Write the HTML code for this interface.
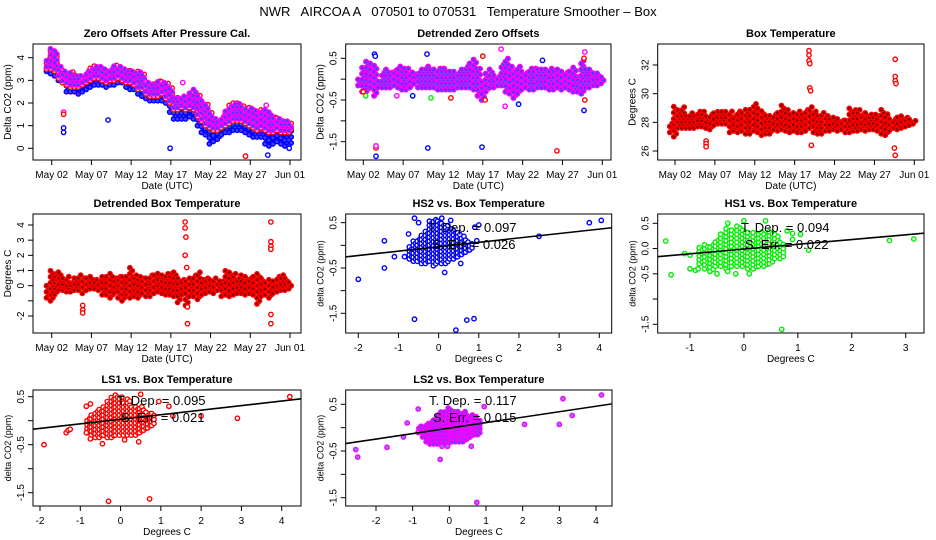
<!DOCTYPE html>
<html><head><meta charset="utf-8"><style>
html,body{margin:0;padding:0;background:#fff;}
svg{display:block;font-family:"Liberation Sans",sans-serif;}
</style></head><body>
<svg id="chart" width="936" height="540" viewBox="0 0 936 540" xmlns="http://www.w3.org/2000/svg">
<rect x="0" y="0" width="936" height="540" fill="#fff"/>
<text x="458" y="16" font-size="13" text-anchor="middle" xml:space="preserve">NWR   AIRCOA A   070501 to 070531   Temperature Smoother – Box</text>
</svg>
<script>
// ---------- DATA ----------
const tDays = [0.5,1,1.5,2,2.5,3,3.5,4,4.5,5,5.5,6,6.5,7,7.5,8,8.5,9,9.5,10,10.5,11,11.5,12,12.5,13,13.5,14,14.5,15,15.5,16,16.5,17,17.5,18,18.5,19,19.5,20,20.5,21,21.5,22,22.5,23,23.5,24,24.5,25,25.5,26,26.5,27,27.5,28,28.5,29,29.5,30,30.5,31];
const dateTicks = [1,6,11,16,21,26,31];
const dateTickLabels = ["May 02","May 07","May 12","May 17","May 22","May 27","Jun 01"];

// Panel 1: zero offsets
const zeroMagHi = [3.9,4.4,4.3,3.7,3.5,3.3,3.4,3.3,3.2,3.1,3.4,3.6,3.7,3.6,3.6,3.5,3.5,3.7,3.6,3.5,3.5,3.5,3.4,3.4,3.3,3.0,2.9,2.9,3.0,3.0,2.9,2.7,2.3,2.3,2.3,2.2,2.5,2.6,2.4,2.1,2.0,1.6,1.3,1.2,1.4,1.7,1.9,2.0,2.0,1.9,1.8,1.8,1.7,1.6,1.7,1.7,1.6,1.4,1.4,1.3,1.2,1.1];
const zeroMagLo = [3.6,3.6,3.5,3.2,3.0,2.9,2.8,2.8,2.8,2.9,3.0,3.1,3.2,3.2,3.1,3.0,3.1,3.1,3.2,3.1,3.0,3.0,2.9,2.7,2.7,2.5,2.4,2.4,2.4,2.5,2.3,2.1,1.8,1.8,1.9,1.8,1.9,1.8,1.5,1.3,1.1,1.0,0.9,0.9,1.0,1.1,1.2,1.3,1.3,1.3,1.2,1.1,1.0,0.9,1.0,0.9,0.8,0.8,0.9,0.8,0.8,0.8];
const zeroRedLo = [3.5,3.5,3.4,3.1,2.9,2.8,2.7,2.7,2.7,2.8,2.9,3.0,3.1,3.1,3.0,2.9,3.0,3.0,3.1,3.0,2.9,2.9,2.8,2.6,2.6,2.4,2.3,2.3,2.3,2.4,2.2,2.0,1.7,1.7,1.8,1.7,1.8,1.7,1.4,1.2,1.0,0.9,0.8,0.8,0.9,1.0,1.1,1.2,1.2,1.2,1.1,1.0,0.9,0.8,0.9,0.8,0.7,0.7,0.8,0.7,0.7,0.7];
const zeroBlueLo = [3.4,3.3,3.2,3.0,2.9,2.5,2.5,2.5,2.4,2.5,2.6,2.7,2.8,2.8,2.8,2.7,2.8,2.8,2.9,2.9,2.7,2.6,2.6,2.4,2.3,2.2,2.1,2.1,2.1,2.1,2.0,1.6,1.3,1.3,1.3,1.3,1.4,1.3,1.0,0.7,0.6,0.2,0.3,0.4,0.6,0.7,0.7,0.8,0.8,0.8,0.7,0.6,0.5,0.5,0.5,0.2,0.1,0.2,0.3,0.2,0.1,0.1];
const zeroOutT = [2.5,2.5,2.5,2.5,8.1,15.9,17.5,25.4,28.2,30.9,28.0];
const zeroOutV = [1.6,1.5,0.9,0.7,1.25,0.0,2.9,-0.35,-0.3,0.0,1.9];
const zeroOutC = ["m","r","b","b","b","b","m","r","b","b","m"];

// Panel 2: detrended zero offsets
const detLo = [-0.15,-0.3,-0.3,-0.2,-0.4,-0.2,-0.2,-0.2,-0.2,-0.15,-0.2,-0.25,-0.25,-0.2,-0.1,-0.2,-0.2,-0.2,-0.2,-0.2,-0.25,-0.25,-0.25,-0.25,-0.25,-0.2,-0.2,-0.2,-0.2,-0.25,-0.4,-0.5,-0.3,-0.2,-0.2,-0.15,-0.15,-0.3,-0.35,-0.45,-0.35,-0.25,-0.2,-0.25,-0.25,-0.2,-0.2,-0.2,-0.25,-0.25,-0.2,-0.25,-0.2,-0.25,-0.3,-0.3,-0.35,-0.2,-0.2,-0.15,-0.15,-0.1];
const detHi = [0.05,0.3,0.45,0.4,0.35,0.0,0.2,0.25,0.2,0.25,0.35,0.3,0.3,0.2,0.15,0.2,0.3,0.35,0.3,0.3,0.3,0.3,0.25,0.2,0.25,0.2,0.3,0.35,0.4,0.5,0.3,0.0,0.2,0.3,0.1,0.1,0.4,0.5,0.3,0.25,0.35,0.25,0.2,0.3,0.3,0.3,0.3,0.25,0.3,0.25,0.3,0.25,0.2,0.25,0.3,0.1,0.5,0.25,0.25,0.2,0.15,0.1];
const detOutT = [2.6,2.6,2.6,9.1,15.9,25.3,9.0,2.4,2.5,18.3,18.8,20.5,28.7,28.8,1.3,1.0,12,9.5,23.5,5.2,7.2,16.3,28.7,28.8,16];
const detOutV = [-1.85,-1.65,-1.6,-1.65,-1.63,-1.72,0.6,0.6,0.55,0.72,-0.65,-0.6,-0.75,-0.5,-0.4,-0.3,-0.45,-0.45,0.45,-0.4,-0.4,-0.5,0.5,0.65,0.55];
const detOutC = ["b","r","m","b","b","r","b","b","b","m","m","b","b","r","g","r","r","g","b","m","b","r","r","m","r"];

// Panel 3: box temperature
const boxLo = [27.3,27.0,27.6,27.6,27.6,27.6,27.6,27.7,27.7,27.6,27.5,27.8,27.9,27.9,27.9,27.3,27.4,27.3,27.4,27.2,27.2,27.4,27.3,27.1,27.2,27.2,27.5,27.4,27.5,27.4,27.3,27.4,27.3,27.3,27.4,27.6,27.3,27.2,27.2,27.4,27.4,27.5,27.4,27.5,27.3,27.3,27.4,27.4,27.5,27.4,27.5,27.5,27.4,27.2,27.1,27.4,27.6,27.5,27.6,27.7,27.8,27.9];
const boxHi = [28.0,29.2,29.0,29.1,28.6,28.8,28.5,28.8,28.8,28.5,28.7,28.8,28.8,28.8,28.8,28.8,28.6,28.9,28.7,28.9,29.0,29.4,29.0,28.9,28.5,28.6,28.7,28.8,29.2,28.9,28.6,28.8,28.9,28.7,28.9,29.2,28.9,28.6,28.7,28.5,28.4,28.5,28.3,28.3,28.3,29.1,28.9,28.9,28.7,28.7,28.7,28.6,28.6,29.0,28.7,28.3,28.4,28.5,28.6,28.5,28.4,28.3];
const boxOutT = [4.9,4.9,4.9,17.8,17.8,17.8,17.9,17.9,18.0,18.1,28.6,28.6,28.6,28.7,28.5,28.6];
const boxOutV = [26.7,26.5,26.3,33.0,32.7,32.3,32.1,30.4,30.2,26.4,32.4,31.2,30.9,30.7,26.2,25.7];

// Panel 4: detrended box temperature
const dboxLo = [-0.8,-1.0,-0.6,-0.3,-0.3,-0.4,-0.4,-0.3,-0.3,-0.5,-0.3,-0.2,-0.2,-0.3,-0.6,-0.6,-0.8,-0.5,-0.8,-1.0,-0.6,-0.8,-0.7,-0.8,-0.5,-0.7,-0.7,-0.5,-0.4,-0.5,-0.6,-0.6,-0.7,-1.1,-0.6,-1.3,-0.7,-0.7,-0.9,-0.6,-0.5,-0.4,-0.5,-0.3,-0.7,-0.6,-0.7,-0.6,-0.5,-0.5,-0.6,-0.5,-0.6,-1.2,-0.7,-0.6,-0.8,-0.5,-0.4,-0.3,-0.3,-0.2];
const dboxHi = [0.0,1.1,0.8,0.9,0.6,0.7,0.3,0.6,0.7,0.6,0.6,0.6,0.5,0.4,0.6,0.7,0.9,0.6,0.6,0.7,0.7,1.2,0.8,0.7,0.5,0.6,0.7,0.7,0.9,0.8,0.9,0.8,0.9,0.5,0.4,0.4,0.6,0.8,0.9,0.5,0.6,0.5,0.5,0.4,0.4,1.0,0.9,0.9,0.6,0.7,0.7,0.6,0.7,0.8,0.5,0.3,0.5,0.4,0.6,0.7,0.6,0.3];
const dboxOutT = [4.9,4.9,4.9,17.8,17.8,17.9,17.8,18.0,18.1,18.1,28.6,28.6,28.6,28.6,28.6,28.6];
const dboxOutV = [-1.3,-1.6,-1.8,4.2,3.8,3.2,2.0,1.2,-1.4,-2.5,4.2,2.9,2.6,2.4,-1.9,-2.5];

// Scatter panels (core cluster columns + individual points)
const hs2CoreX = [-0.7,-0.6,-0.5,-0.4,-0.3,-0.2,-0.1,0,0.1,0.2,0.3,0.4,0.5,0.6,0.7,0.8];
const hs2CoreLo = [-0.3,-0.35,-0.35,-0.4,-0.4,-0.35,-0.45,-0.35,-0.4,-0.4,-0.3,-0.3,-0.25,-0.2,-0.15,-0.1];
const hs2CoreHi = [0.0,0.1,0.15,0.25,0.35,0.55,0.6,0.55,0.5,0.45,0.4,0.35,0.3,0.2,0.15,0.05];
const hs2PtX = [-2.0,-1.35,-1.35,-1.1,-0.85,-0.75,-0.6,-0.5,-0.6,0.43,0.7,0.88,0.15,0.55,0.9,1.0,2.5,3.75,4.05,0.95,0.3,0.08];
const hs2PtY = [-0.75,-0.5,0.1,-0.25,-0.25,0.25,0.6,0.5,-1.63,-1.87,-1.65,-1.62,-0.6,-0.4,0.4,0.45,0.2,0.5,0.55,0.1,0.55,0.6];
const hs2Fit = [-0.03,0.097];

const hs1CoreX = [-0.8,-0.7,-0.6,-0.5,-0.4,-0.3,-0.2,-0.1,0,0.1,0.2,0.3,0.4,0.5,0.6,0.7];
const hs1CoreLo = [-0.3,-0.4,-0.45,-0.35,-0.35,-0.4,-0.35,-0.35,-0.35,-0.4,-0.4,-0.35,-0.35,-0.3,-0.2,-0.2];
const hs1CoreHi = [0.05,0.1,0.1,0.2,0.3,0.4,0.4,0.45,0.4,0.35,0.35,0.35,0.3,0.35,0.3,0.15];
const hs1PtX = [-1.45,-1.35,-1.1,-1.0,-1.0,-0.9,-0.85,-0.5,-0.3,-0.15,0.1,-0.3,0.0,0.4,0.7,0.9,1.05,1.2,2.7,3.15,0.8,0.9];
const hs1PtY = [0.15,-0.52,-0.1,-0.13,-0.4,-0.43,-0.4,-0.5,-0.45,-0.5,-0.5,0.5,0.55,0.55,-1.6,0.3,0.28,-0.03,0.16,0.19,0.35,0.18];
const hs1Fit = [-0.01,0.094];

const ls1CoreX = [-0.8,-0.7,-0.6,-0.5,-0.4,-0.3,-0.2,-0.1,0,0.1,0.2,0.3,0.4,0.5,0.6,0.7,0.8];
const ls1CoreLo = [-0.25,-0.3,-0.35,-0.35,-0.3,-0.35,-0.35,-0.3,-0.3,-0.3,-0.3,-0.3,-0.3,-0.25,-0.2,-0.15,-0.1];
const ls1CoreHi = [0.05,0.15,0.2,0.25,0.3,0.4,0.5,0.55,0.5,0.4,0.45,0.3,0.3,0.3,0.25,0.15,0.15];
const ls1PtX = [-1.9,-1.35,-1.3,-1.25,-0.85,-0.85,-0.75,-0.75,-0.45,-0.3,0.72,0.1,0.45,0.5,0.95,1.2,1.3,2.0,2.9,4.2];
const ls1PtY = [-0.5,-0.25,-0.2,-0.18,-0.25,0.3,0.35,-0.38,-0.48,-1.68,-1.63,-0.4,-0.44,0.55,0.4,0.3,0.1,0.1,0.05,0.5];
const ls1Fit = [0.03,0.095];

const ls2CoreX = [-0.8,-0.7,-0.6,-0.5,-0.4,-0.3,-0.2,-0.1,0,0.1,0.2,0.3,0.4,0.5,0.6,0.7,0.8];
const ls2CoreLo = [-0.1,-0.2,-0.3,-0.35,-0.35,-0.35,-0.35,-0.35,-0.35,-0.3,-0.3,-0.3,-0.3,-0.25,-0.2,-0.15,-0.15];
const ls2CoreHi = [0.05,0.05,0.1,0.15,0.2,0.3,0.35,0.35,0.45,0.35,0.35,0.3,0.35,0.3,0.3,0.25,0.15];
const ls2PtX = [-2.55,-2.5,-1.7,-1.25,-1.15,-0.85,-0.85,-0.25,-0.2,-0.05,0.75,0.6,0.95,2.05,3.0,3.1,3.35,4.15];
const ls2PtY = [-0.47,-0.63,-0.42,-0.2,0.1,0.4,-0.1,-0.68,-0.4,-0.4,-1.6,-0.4,0.45,0.07,0.07,0.62,0.26,0.7];
const ls2Fit = [-0.01,0.117];

const ppmTicks = [0.5,0,-0.5,-1,-1.5];
const ppmTickLabels = ["0.5","","-0.5","","-1.5"];

// ---------- DRAWING ----------
const NS = "http://www.w3.org/2000/svg";
const svg = document.getElementById("chart");
const COL = {b:"#0000ff", g:"#00ee00", r:"#ff0000", m:"#ff00ff"};

function mk(tag, parent){ const e=document.createElementNS(NS,tag); (parent||svg).appendChild(e); return e; }
function lin(v0,p0,v1,p1){ return v => p0 + (v - v0) * (p1 - p0) / (v1 - v0); }

function circ(g, x, y, c, fill){
  const e = mk("circle", g);
  
  
  e.setAttribute("cx", x.toFixed(1)); e.setAttribute("cy", y.toFixed(1)); e.setAttribute("r", "2.2");
  e.setAttribute("fill", fill || "#fff"); e.setAttribute("stroke", c); e.setAttribute("stroke-width", "1.4");
}
function txt(x, y, s, opt){
  const e = mk("text", opt.g);
  
  
  e.setAttribute("x", x); e.setAttribute("y", y);
  e.setAttribute("font-size", opt.size || 10);
  e.setAttribute("text-anchor", opt.anchor || "middle");
  if (opt.bold) e.setAttribute("font-weight", "bold");
  if (opt.rot) e.setAttribute("transform", "rotate(-90 " + x + " " + y + ")");
  e.setAttribute("xml:space", "preserve");
  e.textContent = s;
  return e;
}

function panel(p){
  const g = mk("g");
  
  
  const X = lin(p.xa[0], p.xa[1], p.xb[0], p.xb[1]);
  const Y = lin(p.ya[0], p.ya[1], p.yb[0], p.yb[1]);
  const clip = mk("clipPath", g); clip.setAttribute("id", "clip-" + p.name);
  const cr = mk("rect", clip);
  cr.setAttribute("x", p.box[0]); cr.setAttribute("y", p.box[1]);
  cr.setAttribute("width", p.box[2]-p.box[0]); cr.setAttribute("height", p.box[3]-p.box[1]);
  const plot = mk("g", g);
  
  
  plot.setAttribute("clip-path", "url(#clip-" + p.name + ")");
  p.draw(plot, X, Y);
  const fr = mk("rect", g);
  
  
  fr.setAttribute("x", p.box[0]); fr.setAttribute("y", p.box[1]);
  fr.setAttribute("width", p.box[2]-p.box[0]); fr.setAttribute("height", p.box[3]-p.box[1]);
  fr.setAttribute("fill", "none"); fr.setAttribute("stroke", "#000"); fr.setAttribute("stroke-width", "1");
  p.xt.forEach((v, i) => {
    const x = X(v);
    const l = mk("line", g);
    
    
    l.setAttribute("x1", x); l.setAttribute("x2", x); l.setAttribute("y1", p.box[3]); l.setAttribute("y2", p.box[3] + 5);
    l.setAttribute("stroke", "#000");
    if (p.xl[i]) txt(x, p.box[3] + 18, p.xl[i], {g: g, name: 'x-tick-label'});
  });
  p.yt.forEach((v, i) => {
    const y = Y(v);
    const l = mk("line", g);
    
    
    l.setAttribute("x1", p.box[0]); l.setAttribute("x2", p.box[0] - 5); l.setAttribute("y1", y); l.setAttribute("y2", y);
    l.setAttribute("stroke", "#000");
    if (p.yl[i]) txt(p.box[0] - 9, y, p.yl[i], {g: g, name: 'y-tick-label', rot: true});
  });
  txt((p.box[0] + p.box[2]) / 2, p.box[1] - 7, p.title, {g: g, name: 'panel-title', bold: true, size: 11});
  txt((p.box[0] + p.box[2]) / 2, p.box[3] + 29, p.xlab, {g: g, name: 'x-axis-title'});
  txt(p.box[0] - 22, (p.box[1] + p.box[3]) / 2, p.ylab, {g: g, name: 'y-axis-title', rot: true, size: p.ylabSize || 10});
  return g;
}

function band(g, X, Y, ts, lo, hi, c, fill){
  ts.forEach((t, i) => {
    const y0 = Y(lo[i]), y1 = Y(hi[i]);
    const top = Math.min(y0, y1), bot = Math.max(y0, y1);
    let k = 0;
    for (let y = bot; y >= top - 0.01; y -= 3) { circ(g, X(t) + ((k % 2) ? 1.2 : -1.2), y, c, fill); k++; }
  });
}
function colsX(g, X, Y, xs, lo, hi, c, fill){
  xs.forEach((xv, i) => {
    [-0.03, 0.03].forEach((dx, j) => {
      const y0 = Y(lo[i]), y1 = Y(hi[i]);
      for (let y = y0 - j * 2; y >= y1 - 0.01; y -= 4) circ(g, X(xv + dx), y, c, fill);
    });
  });
}
function fitLine(g, X, Y, fit, x0, x1){
  const l = mk("line", g);
  
  
  l.setAttribute("x1", X(x0)); l.setAttribute("x2", X(x1));
  l.setAttribute("y1", Y(fit[0] + fit[1] * x0)); l.setAttribute("y2", Y(fit[0] + fit[1] * x1));
  l.setAttribute("stroke", "#000"); l.setAttribute("stroke-width", "1.6");
}
function stats(g, x, y, fit, serr){
  txt(x, y, "T. Dep. =  " + fit[1].toFixed(3), {g: g, name: 'temp-dependence-label', anchor: 'start', size: 13});
  txt(x + 4, y + 17, "S. Err. = " + serr, {g: g, name: 'std-error-label', anchor: 'start', size: 13});
}

// Panel 1
panel({name:"zero-offsets-panel", box:[33,44,301,160], xa:[1,51.7], xb:[31,290], ya:[0,148.3], yb:[4,57.7],
  xt:dateTicks, xl:dateTickLabels, yt:[0,1,2,3,4], yl:["0","1","2","3","4"],
  title:"Zero Offsets After Pressure Cal.", xlab:"Date (UTC)", ylab:"Delta CO2 (ppm)",
  draw:(g,X,Y)=>{
    band(g,X,Y,tDays,zeroBlueLo,zeroMagLo,COL.b,"#4040ff");
    band(g,X,Y,tDays,zeroRedLo,zeroMagLo,COL.g);
    band(g,X,Y,tDays,zeroRedLo,zeroMagHi,COL.r);
    band(g,X,Y,tDays,zeroMagLo,zeroMagHi,COL.m,"#4040ff");
    zeroOutT.forEach((t,i)=>circ(g,X(t),Y(zeroOutV[i]),COL[zeroOutC[i]]));
  }});
// Panel 2
panel({name:"detrended-zero-offsets-panel", box:[345.7,44,611,160], xa:[1,363.3], xb:[31,602.3], ya:[0.5,58.3], yb:[-1.5,141.7],
  xt:dateTicks, xl:dateTickLabels, yt:ppmTicks, yl:ppmTickLabels,
  title:"Detrended Zero Offsets", xlab:"Date (UTC)", ylab:"Delta CO2 (ppm)",
  draw:(g,X,Y)=>{
    band(g,X,Y,tDays,detLo,detHi,COL.r);
    band(g,X,Y,tDays,detLo,detHi,COL.m,"#4040ff");
    detOutT.forEach((t,i)=>circ(g,X(t),Y(detOutV[i]),COL[detOutC[i]]));
  }});
// Panel 3
panel({name:"box-temperature-panel", box:[657.7,44,924,160], xa:[1,675], xb:[31,914.3], ya:[32,65], yb:[26,151],
  xt:dateTicks, xl:dateTickLabels, yt:[26,28,30,32], yl:["26","28","30","32"],
  title:"Box Temperature", xlab:"Date (UTC)", ylab:"Degrees C",
  draw:(g,X,Y)=>{
    band(g,X,Y,tDays,boxLo,boxHi,COL.r,"#900000");
    boxOutT.forEach((t,i)=>circ(g,X(t),Y(boxOutV[i]),COL.r));
  }});
// Panel 4
panel({name:"detrended-box-temperature-panel", box:[33,214,301,333], xa:[1,51.7], xb:[31,290], ya:[4,225], yb:[-2,316],
  xt:dateTicks, xl:dateTickLabels, yt:[-2,-1,0,1,2,3,4], yl:["-2","","0","1","2","3","4"],
  title:"Detrended Box Temperature", xlab:"Date (UTC)", ylab:"Degrees C",
  draw:(g,X,Y)=>{
    band(g,X,Y,tDays,dboxLo,dboxHi,COL.r,"#900000");
    dboxOutT.forEach((t,i)=>circ(g,X(t),Y(dboxOutV[i]),COL.r));
  }});
// HS2
panel({name:"hs2-scatter-panel", box:[345.7,214,611.7,333], xa:[-2,358.3], xb:[4,599.3], ya:[0.5,222.7], yb:[-1.5,313.3],
  xt:[-2,-1,0,1,2,3,4], xl:["-2","-1","0","1","2","3","4"], yt:ppmTicks, yl:ppmTickLabels,
  title:"HS2 vs. Box Temperature", xlab:"Degrees C", ylab:"delta CO2 (ppm)", ylabSize:9,
  draw:(g,X,Y)=>{
    colsX(g,X,Y,hs2CoreX,hs2CoreLo,hs2CoreHi,COL.b);
    hs2PtX.forEach((x,i)=>circ(g,X(x),Y(hs2PtY[i]),COL.b));
    fitLine(g,X,Y,hs2Fit,-2.5,4.5);
    stats(g,428,232,hs2Fit,"0.026");
  }});
// HS1
panel({name:"hs1-scatter-panel", box:[657.7,214,924,333], xa:[-1,690], xb:[3,905.7], ya:[0.5,223.3], yb:[-1.5,324.3],
  xt:[-1,0,1,2,3], xl:["-1","0","1","2","3"], yt:ppmTicks, yl:["0.5","0.0","-0.5","","-1.5"],
  title:"HS1 vs. Box Temperature", xlab:"Degrees C", ylab:"delta CO2 (ppm)", ylabSize:9,
  draw:(g,X,Y)=>{
    colsX(g,X,Y,hs1CoreX,hs1CoreLo,hs1CoreHi,COL.g);
    hs1PtX.forEach((x,i)=>circ(g,X(x),Y(hs1PtY[i]),COL.g));
    fitLine(g,X,Y,hs1Fit,-2,4);
    stats(g,741,232,hs1Fit,"0.022");
  }});
// LS1
panel({name:"ls1-scatter-panel", box:[33,390,301,506], xa:[-2,40], xb:[4,281.7], ya:[0.5,396.7], yb:[-1.5,492.7],
  xt:[-2,-1,0,1,2,3,4], xl:["-2","-1","0","1","2","3","4"], yt:ppmTicks, yl:ppmTickLabels,
  title:"LS1 vs. Box Temperature", xlab:"Degrees C", ylab:"delta CO2 (ppm)", ylabSize:9,
  draw:(g,X,Y)=>{
    colsX(g,X,Y,ls1CoreX,ls1CoreLo,ls1CoreHi,COL.r);
    ls1PtX.forEach((x,i)=>circ(g,X(x),Y(ls1PtY[i]),COL.r));
    fitLine(g,X,Y,ls1Fit,-2.5,4.5);
    stats(g,117,405,ls1Fit,"0.021");
  }});
// LS2
panel({name:"ls2-scatter-panel", box:[345.7,390,612,506], xa:[-2,376], xb:[4,596], ya:[0.5,404.3], yb:[-1.5,497.7],
  xt:[-2,-1,0,1,2,3,4], xl:["-2","-1","0","1","2","3","4"], yt:ppmTicks, yl:ppmTickLabels,
  title:"LS2 vs. Box Temperature", xlab:"Degrees C", ylab:"delta CO2 (ppm)", ylabSize:9,
  draw:(g,X,Y)=>{
    colsX(g,X,Y,ls2CoreX,ls2CoreLo,ls2CoreHi,COL.m,"#6040ff");
    ls2PtX.forEach((x,i)=>circ(g,X(x),Y(ls2PtY[i]),COL.m,"#8080ff"));
    fitLine(g,X,Y,ls2Fit,-3,4.5);
    stats(g,429,405,ls2Fit,"0.015");
  }});
</script>
</body></html>
